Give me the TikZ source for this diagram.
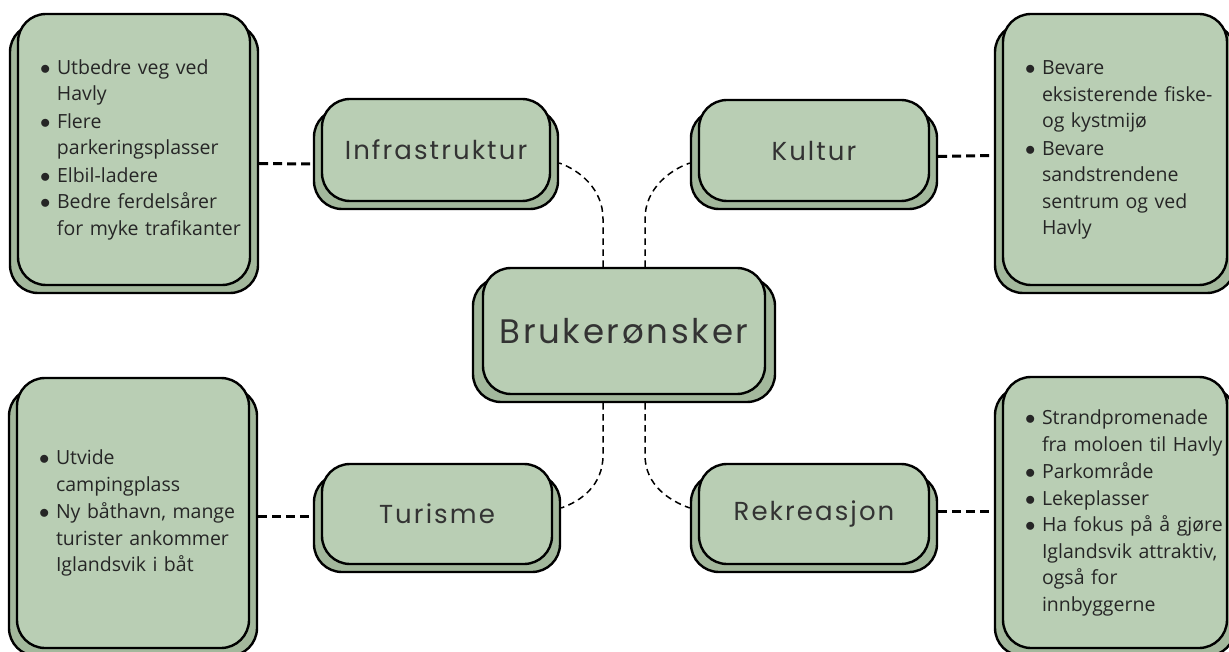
\documentclass[tikz,border=0pt]{standalone}
\usepackage{fontspec}
\setmainfont{Open Sans}
\newfontfamily\tittelfont[LetterSpace=8]{Poppins}
\usepackage{tikz}
\usetikzlibrary{calc}

\definecolor{salvie}{HTML}{B9CEB4}
\definecolor{salviemork}{HTML}{A3B89C}
\definecolor{tekstgraa}{HTML}{333333}

\newcommand{\punkt}[1]{\noindent\makebox[17pt][l]{$\bullet$}\begin{tabular}[t]{@{}l@{}}#1\end{tabular}\par}

\begin{document}
\begin{tikzpicture}[x=1pt, y=-1pt,
	boks/.style={draw=black, line width=2.4pt, fill=salvie, rounded corners=28pt, inner sep=0pt},
	bakboks/.style={boks, fill=salviemork},
	emne/.style={boks, font=\tittelfont\fontsize{26}{30}\selectfont, text=tekstgraa},
	liste/.style={boks, inner xsep=22pt, align=left, font=\fontsize{19.5}{26.5}\selectfont, text=black!85},
	tykkstrek/.style={line width=3pt, dash pattern=on 9pt off 5pt},
	tynnstrek/.style={line width=1.5pt, dash pattern=on 6.5pt off 4.5pt}]
				\useasboundingbox (0,0) rectangle (1229,652);
				% bakre bokser
				\node[bakboks, minimum width=248pt, minimum height=269pt] (tl-b) at (134,158.5) {};
				\node[bakboks, minimum width=240pt, minimum height=269pt] (tr-b) at (1115,158.5) {};
				\node[bakboks, minimum width=248pt, minimum height=268pt] (bl-b) at (133,522) {};
				\node[bakboks, minimum width=240pt, minimum height=269pt] (br-b) at (1115,521.5) {};
				\node[bakboks, minimum width=244pt, minimum height=100pt] (infra-b) at (436,159) {};
				\node[bakboks, minimum width=246pt, minimum height=99pt] (kultur-b) at (814,159.5) {};
				\node[bakboks, minimum width=246pt, minimum height=98pt] (turisme-b) at (437,523) {};
				\node[bakboks, minimum width=246pt, minimum height=98pt] (rekre-b) at (814,523) {};
				\node[bakboks, minimum width=302pt, minimum height=124pt] (hub-b) at (624,340) {};
				% emner
				\node[emne, minimum width=228pt, minimum height=102pt] (infra) at (436,150) {Infrastruktur};
				\node[emne, minimum width=230pt, minimum height=101pt] (kultur) at (814,150.5) {Kultur};
				\node[emne, minimum width=230pt, minimum height=100pt] (turisme) at (437,514) {Turisme};
				\node[emne, minimum width=230pt, minimum height=100pt] (rekre) at (814,514) {Rekreasjon};
				\node[emne, font=\tittelfont\fontsize{34}{40}\selectfont, minimum width=282pt, minimum height=126pt] (hub) at (624,331) {Brukerønsker};
				% lister
				\node[liste, text width=188pt, minimum width=232pt, minimum height=271pt] (tl) at (134,149.5) {%
					\punkt{Utbedre veg ved\\Havly}
					\punkt{Flere\\parkeringsplasser}
					\punkt{Elbil-ladere}
					\punkt{Bedre ferdelsårer\\for myke trafikanter}};
				\node[liste, text width=180pt, minimum width=224pt, minimum height=271pt] (tr) at (1115,149.5) {%
					\punkt{Bevare\\eksisterende fiske-\\og kystmijø}
					\punkt{Bevare\\sandstrendene\\sentrum og ved\\Havly}};
				\node[liste, text width=188pt, minimum width=232pt, minimum height=270pt] (bl) at (133,513) {%
					\punkt{Utvide\\campingplass}
					\punkt{Ny båthavn, mange\\turister ankommer\\Iglandsvik i båt}};
				\node[liste, text width=180pt, minimum width=224pt, minimum height=271pt] (br) at (1115,512.5) {%
					\punkt{Strandpromenade\\fra moloen til Havly}
					\punkt{Parkområde}
					\punkt{Lekeplasser}
					\punkt{Ha fokus på å gjøre\\Iglandsvik attraktiv,\\også for\\innbyggerne}};
				% koblinger
				\draw[tykkstrek] ($(tl-b.east)+(0,5)$) -- ($(infra-b.west)+(0,5)$);
				\draw[tykkstrek] ($(kultur-b.east)+(0,-3)$) -- ($(tr-b.west)+(0,-3)$);
				\draw[tykkstrek] ($(bl-b.east)+(0,-6)$) -- ($(turisme-b.west)+(0,-7)$);
				\draw[tykkstrek] ($(rekre-b.east)+(0,-12)$) -- ($(br-b.west)+(0,-10.5)$);
				\draw[tynnstrek] ($(hub.north)+(-21,0)$) -- ++(0,-48) .. controls +(0,-30) and +(20,7) .. ($(infra-b.east)+(0,4)$);
				\draw[tynnstrek] ($(hub.north)+(21,0)$) -- ++(0,-48) .. controls +(0,-30) and +(-20,7) .. ($(kultur-b.west)+(0,3.5)$);
				\draw[tynnstrek] ($(hub-b.south)+(-21,0)$) -- ++(0,52) .. controls +(0,30) and +(20,-7) .. ($(turisme-b.east)+(0,-15)$);
				\draw[tynnstrek] ($(hub-b.south)+(21,0)$) -- ++(0,52) .. controls +(0,30) and +(-20,-7) .. ($(rekre-b.west)+(0,-15)$);
\end{tikzpicture}
\end{document}
